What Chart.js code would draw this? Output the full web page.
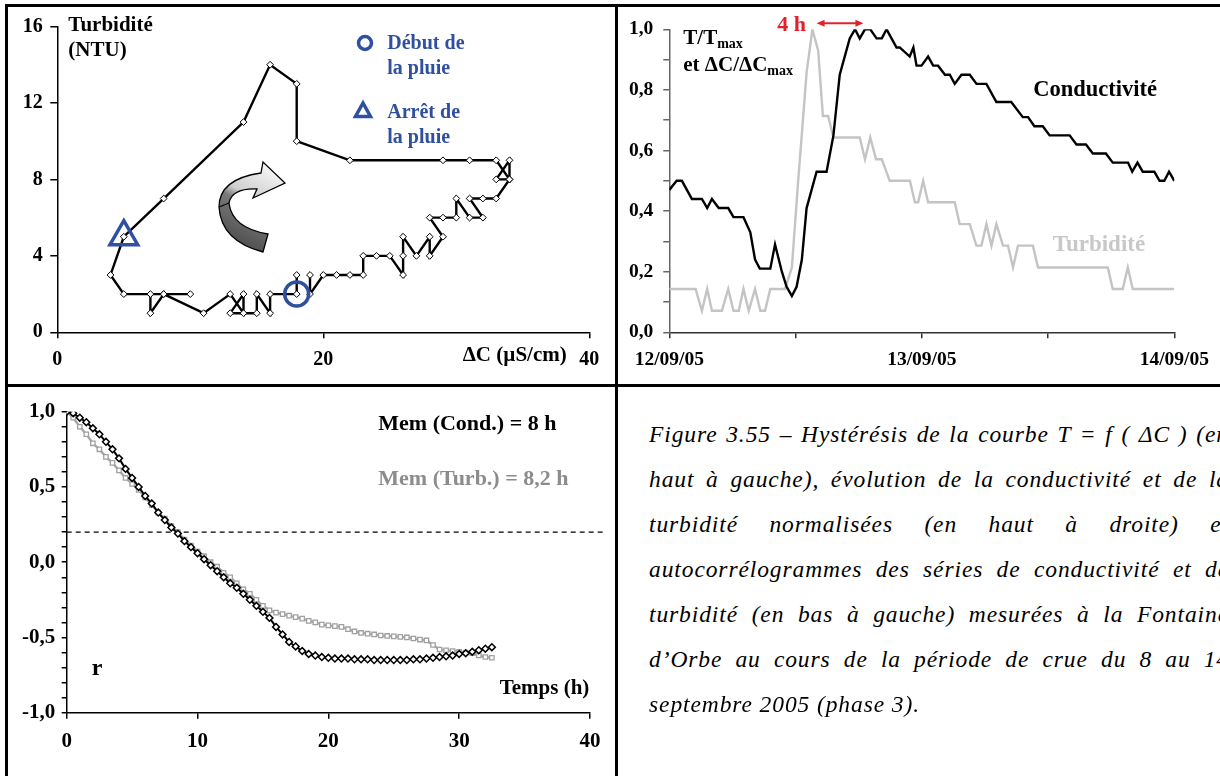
<!DOCTYPE html>
<html><head><meta charset="utf-8">
<script src="https://cdn.jsdelivr.net/npm/chart.js@4.4.1/dist/chart.umd.min.js"></script>
<style>
html,body{margin:0;padding:0;background:#fff;}
#wrap{position:relative;width:1220px;height:776px;overflow:hidden;background:#fff;}
canvas{position:absolute;}
.t{position:absolute;font-family:"Liberation Serif","Times New Roman",serif;font-weight:bold;white-space:nowrap;line-height:1;}
.ln{position:absolute;background:#000;}
.cap{position:absolute;font-family:"Liberation Serif","Times New Roman",serif;font-style:italic;white-space:nowrap;line-height:1;color:#000;letter-spacing:0.9px;}
</style></head>
<body><div id="wrap">
<canvas id="c1" width="606" height="376" style="left:8px;top:7px"></canvas>
<canvas id="c2" width="602" height="376" style="left:618px;top:7px"></canvas>
<canvas id="c3" width="606" height="389" style="left:8px;top:387px"></canvas>
<div class="ln" style="left:5px;top:4px;width:1215px;height:2.5px"></div>
<div class="ln" style="left:5px;top:4px;width:2.5px;height:772px"></div>
<div class="ln" style="left:615px;top:4px;width:2.5px;height:772px"></div>
<div class="ln" style="left:5px;top:384px;width:1215px;height:2.5px"></div>
</div>
<script>
// ---------- DATA ----------
// Hysteresis loop T = f(ΔC)
const hystDC = [18,18,16,16,15,15,13,14,14,13,11,8,10,7,7,8,5,4,5,8,14,16,18,18,22,29,31,33,34,34,33,34,33,32,31,32,31,30,30,29,28,29,28,28,27,26,26,26,25,24,23,23,22,21,20,19,19];
const hystT  = [3,2,2,1,2,1,1,2,1,2,1,2,2,2,1,2,2,3,5,7,11,14,13,10,9,9,9,9,8,9,8,8,7,7,7,6,6,7,6,6,6,5,4,5,4,5,4,3,4,4,4,3,3,3,3,2,3];
const rainStart = [18,2];
const rainStop  = [5,5];
const hystXTicks = [0,20,40];
const hystYTicks = [0,4,8,12,16];

// Normalised series (hours from 12/09/05 00:00)
const condH = [0,0.7,1.2,2.15,3.1,3.6,4.05,4.7,5.6,6.1,7.05,7.7,8.15,8.6,9.6,10.05,10.7,11.15,11.65,12.1,12.6,13.05,14.0,14.95,15.6,16.2,17.15,17.65,18.1,18.6,19.1,19.7,20.2,20.65,21.6,21.9,22.85,23.2,23.5,23.97,24.6,25.08,25.55,26.2,26.66,27.13,27.77,28.56,29.2,30.14,31.09,32.5,33.6,34.1,34.7,35.5,36.15,38.05,38.7,39.6,40.26,41.5,42.15,43.6,44.0,44.5,45.0,46.1,46.6,47.05,47.5,48];
const condV = [0.47,0.50,0.50,0.44,0.44,0.41,0.44,0.41,0.41,0.38,0.38,0.33,0.24,0.21,0.21,0.29,0.20,0.15,0.12,0.15,0.24,0.41,0.53,0.53,0.65,0.85,0.97,1.0,0.97,1.0,1.0,0.97,0.97,1.0,0.94,0.94,0.91,0.94,0.88,0.88,0.91,0.88,0.88,0.85,0.85,0.82,0.85,0.85,0.82,0.82,0.76,0.76,0.71,0.71,0.68,0.68,0.65,0.65,0.62,0.62,0.59,0.59,0.56,0.56,0.53,0.56,0.53,0.53,0.50,0.50,0.53,0.50];
const turbH = [0,2.5,3.1,3.6,4.05,5.0,5.6,6.1,6.6,7.05,7.55,8.15,8.65,9.1,9.6,11.0,11.65,12.25,13.05,13.6,14.15,14.6,15.1,15.6,18.1,18.6,19.1,19.65,20.2,20.95,22.87,23.34,23.65,24.13,24.6,27.13,27.6,28.56,29.19,29.67,30.14,30.62,31.09,31.72,32.19,32.67,33.14,34.56,35.04,41.68,42.15,43.1,43.58,44.05,48];
const turbV = [0.143,0.143,0.071,0.143,0.071,0.071,0.143,0.071,0.071,0.143,0.071,0.143,0.071,0.071,0.143,0.143,0.214,0.5,0.857,1.0,0.929,0.714,0.714,0.643,0.643,0.571,0.643,0.571,0.571,0.5,0.5,0.429,0.429,0.5,0.429,0.429,0.357,0.357,0.286,0.286,0.357,0.286,0.357,0.286,0.286,0.214,0.286,0.286,0.214,0.214,0.143,0.143,0.214,0.143,0.143];
const dateTickHours = [0,12,24,36,48];
const dateTickLabels = ['12/09/05','','13/09/05','','14/09/05'];

// Autocorrelograms
const lags = [0,0.5,1,1.5,2,2.5,3,3.5,4,4.5,5,5.5,6,6.5,7,7.5,8,8.5,9,9.5,10,10.5,11,11.5,12,12.5,13,13.5,14,14.5,15,15.5,16,16.5,17,17.5,18,18.5,19,19.5,20,20.5,21,21.5,22,22.5,23,23.5,24,24.5,25,25.5,26,26.5,27,27.5,28,28.5,29,29.5,30,30.5,31,31.5,32,32.5];
const condR = [1.00,0.99,0.96,0.93,0.89,0.85,0.80,0.75,0.69,0.62,0.56,0.50,0.44,0.39,0.33,0.28,0.23,0.19,0.14,0.10,0.06,0.02,-0.02,-0.06,-0.10,-0.14,-0.17,-0.21,-0.25,-0.29,-0.33,-0.37,-0.43,-0.48,-0.53,-0.56,-0.59,-0.61,-0.62,-0.63,-0.635,-0.64,-0.64,-0.64,-0.645,-0.645,-0.645,-0.65,-0.65,-0.65,-0.65,-0.65,-0.65,-0.645,-0.645,-0.64,-0.635,-0.63,-0.625,-0.62,-0.61,-0.605,-0.595,-0.585,-0.575,-0.565];
const turbR = [1.0,0.96,0.90,0.85,0.79,0.75,0.70,0.66,0.61,0.56,0.52,0.48,0.43,0.38,0.33,0.29,0.24,0.20,0.15,0.11,0.07,0.04,0.00,-0.03,-0.07,-0.10,-0.14,-0.18,-0.21,-0.25,-0.29,-0.32,-0.335,-0.345,-0.355,-0.365,-0.375,-0.39,-0.40,-0.415,-0.42,-0.425,-0.43,-0.445,-0.46,-0.47,-0.475,-0.48,-0.487,-0.49,-0.493,-0.496,-0.50,-0.507,-0.514,-0.52,-0.55,-0.58,-0.585,-0.59,-0.595,-0.60,-0.605,-0.62,-0.63,-0.635];
const memThreshold = 0.2;

// ---------- STYLE ----------
const SERIF = '"Liberation Serif","Times New Roman",serif';
const BLUE = '#2f4f9f';
const RED = '#e3202a';
const comma = v => (Math.round(v*10)/10).toFixed(1).replace('.',',');

function axisCommon(size, tl, pad){
  return {
    grid:{display:true, drawOnChartArea:false, drawTicks:true, tickLength:tl, color:'#000', lineWidth:1.5},
    border:{display:true, color:'#000', width:1.5},
    ticks:{color:'#000', font:{family:SERIF, weight:'bold', size:size}, padding:pad, autoSkip:false, maxRotation:0, minRotation:0}
  };
}
function merge(a,b){ for(const k in b){ if(b[k] && typeof b[k]==='object' && !Array.isArray(b[k]) && typeof b[k]!=='function'){ a[k]=merge(a[k]||{}, b[k]); } else a[k]=b[k]; } return a; }

const baseOpts = {responsive:false, animation:false, devicePixelRatio:1,
  plugins:{legend:{display:false}, tooltip:{enabled:false}}};

// ---------- CHART 1 : hysteresis ----------
const deco1 = {
  id:'deco1',
  afterDraw(chart){
    const ctx = chart.ctx; const ox=8, oy=7;
    ctx.save();
    ctx.translate(-ox,-oy);
    // curved arrow
    const g = ctx.createLinearGradient(240,250,285,165);
    g.addColorStop(0,'#4a4a4a'); g.addColorStop(0.45,'#7a7a7a'); g.addColorStop(0.55,'#cfcfcf'); g.addColorStop(1,'#ffffff');
    ctx.beginPath();
    ctx.moveTo(263,252);
    ctx.quadraticCurveTo(221,241,219,207);
    ctx.quadraticCurveTo(219,179,261,173);
    ctx.lineTo(263,162); ctx.lineTo(285,183); ctx.lineTo(253,198); ctx.lineTo(257,189);
    ctx.quadraticCurveTo(232,188,229,203);
    ctx.quadraticCurveTo(232,228,268,234);
    ctx.closePath();
    ctx.fillStyle=g; ctx.fill();
    ctx.lineWidth=1.3; ctx.strokeStyle='#000'; ctx.stroke();
    ctx.beginPath(); ctx.moveTo(219,207); ctx.lineTo(229,203); ctx.stroke();
    // legend markers
    ctx.strokeStyle=BLUE; ctx.lineWidth=3.5;
    ctx.beginPath(); ctx.arc(365,43,6.5,0,Math.PI*2); ctx.stroke();
    ctx.beginPath(); ctx.moveTo(363,103); ctx.lineTo(370.5,116.5); ctx.lineTo(355.5,116.5); ctx.closePath(); ctx.stroke();
    ctx.restore();
  }
};
new Chart(document.getElementById('c1'), {
  type:'scatter',
  data:{datasets:[
    {data:[{x:rainStart[0],y:rainStart[1]}], showLine:false, pointStyle:'circle', pointRadius:12, pointBorderWidth:3.5, pointBorderColor:BLUE, pointBackgroundColor:'rgba(0,0,0,0)'},
    {data:[{x:rainStop[0],y:rainStop[1]}], showLine:false, pointStyle:'triangle', pointRadius:16, pointBorderWidth:3.5, pointBorderColor:BLUE, pointBackgroundColor:'rgba(0,0,0,0)'},
    {data:hystDC.map((x,i)=>({x:x,y:hystT[i]})), showLine:true, borderColor:'#000', borderWidth:2.4, tension:0,
     pointStyle:'rectRot', pointRadius:3.4, pointBorderWidth:1, pointBorderColor:'#000', pointBackgroundColor:'#fff'}
  ]},
  options:merge(JSON.parse(JSON.stringify(baseOpts)), {
    layout:{padding:{top:18,right:24.7,left:0,bottom:0}},
    scales:{
      x:merge(axisCommon(20,6,9.5), {type:'linear', min:0, max:40,
        afterBuildTicks:s=>{s.ticks=hystXTicks.map(v=>({value:v}));},
        afterFit:s=>{s.height=50.7;}}),
      y:merge(axisCommon(20,7,7.5), {type:'linear', min:0, max:16,
        afterBuildTicks:s=>{s.ticks=hystYTicks.map(v=>({value:v}));},
        afterFit:s=>{s.width=49.3;}})
    }
  }),
  plugins:[deco1]
});

// ---------- CHART 2 : normalised series ----------
const deco2 = {
  id:'deco2',
  afterDraw(chart){
    const ctx=chart.ctx, xs=chart.scales.x, ys=chart.scales.y;
    const x1=xs.getPixelForValue(14.0), x2=xs.getPixelForValue(18.45), y=ys.getPixelForValue(1.02);
    ctx.save(); ctx.strokeStyle=RED; ctx.fillStyle=RED; ctx.lineWidth=1.8;
    ctx.beginPath(); ctx.moveTo(x1+5,y); ctx.lineTo(x2-5,y); ctx.stroke();
    ctx.beginPath(); ctx.moveTo(x1,y); ctx.lineTo(x1+8,y-3.5); ctx.lineTo(x1+8,y+3.5); ctx.closePath(); ctx.fill();
    ctx.beginPath(); ctx.moveTo(x2,y); ctx.lineTo(x2-8,y-3.5); ctx.lineTo(x2-8,y+3.5); ctx.closePath(); ctx.fill();
    ctx.restore();
  }
};
const ax2x = axisCommon(19.5,6,9.5); ax2x.grid.color='#333'; ax2x.border.color='#333';
const ax2y = axisCommon(19.5,6,10); ax2y.grid.color='#666'; ax2y.border.color='#666';
new Chart(document.getElementById('c2'), {
  type:'scatter',
  data:{datasets:[
    {data:condH.map((x,i)=>({x:x,y:condV[i]})), showLine:true, borderColor:'#000', borderWidth:2.4, pointRadius:0, tension:0},
    {data:turbH.map((x,i)=>({x:x,y:turbV[i]})), showLine:true, borderColor:'#c4c4c4', borderWidth:2.4, pointRadius:0, tension:0}
  ]},
  options:merge(JSON.parse(JSON.stringify(baseOpts)), {
    layout:{padding:{top:22.3,right:45.7,left:0,bottom:0}},
    scales:{
      x:merge(ax2x, {type:'linear', min:0, max:48,
        afterBuildTicks:s=>{s.ticks=dateTickHours.map(v=>({value:v}));},
        ticks:{callback:(v,i)=>dateTickLabels[i]},
        afterFit:s=>{s.height=50.7;}}),
      y:merge(ax2y, {type:'linear', min:0, max:1,
        ticks:{stepSize:0.1, callback:v=>(Math.round(v*10)%2===0? comma(v):'')},
        afterFit:s=>{s.width=51.3;}})
    }
  }),
  plugins:[deco2]
});

// ---------- CHART 3 : autocorrelograms ----------
const deco3 = {
  id:'deco3',
  beforeDatasetsDraw(chart){
    const ctx=chart.ctx, ys=chart.scales.y, a=chart.chartArea;
    const y=ys.getPixelForValue(memThreshold);
    ctx.save(); ctx.strokeStyle='#000'; ctx.lineWidth=1.2; ctx.setLineDash([5,4]);
    ctx.beginPath(); ctx.moveTo(a.left,y); ctx.lineTo(a.right+15,y); ctx.stroke(); ctx.restore();
  }
};
new Chart(document.getElementById('c3'), {
  type:'line',
  data:{labels:lags, datasets:[
    {data:lags.map((x,i)=>({x:x,y:condR[i]})), borderColor:'#000', borderWidth:2, tension:0,
     pointStyle:'rectRot', pointRadius:3.4, pointBorderWidth:1.5, pointBorderColor:'#000', pointBackgroundColor:'#fff'},
    {data:lags.map((x,i)=>({x:x,y:turbR[i]})), borderColor:'#a8a8a8', borderWidth:2.4, tension:0,
     pointStyle:'rect', pointRadius:3.1, pointBorderWidth:1.3, pointBorderColor:'#a0a0a0', pointBackgroundColor:'#fff'}
  ]},
  options:merge(JSON.parse(JSON.stringify(baseOpts)), {
    layout:{padding:{top:24.7,right:24,left:0,bottom:0}},
    scales:{
      x:merge(axisCommon(21,6,10.5), {type:'linear', min:0, max:40,
        ticks:{stepSize:10},
        afterFit:s=>{s.height=63.3;}}),
      y:merge(axisCommon(21,5,6.5), {type:'linear', min:-1, max:1,
        ticks:{stepSize:0.1, callback:v=>(Math.abs(Math.round(v*10))%5===0? comma(v):'')},
        afterFit:s=>{s.width=58.7;}})
    }
  }),
  plugins:[deco3]
});

// ---------- TEXT ----------
const wrap = document.getElementById('wrap');
function txt(html, x, base, size, color, align){
  const d=document.createElement('div'); d.className='t'; d.innerHTML=html;
  d.style.fontSize=size+'px'; d.style.color=color||'#000';
  d.style.top=(base-0.8375*size)+'px';
  if(align==='right'){ d.style.right=(1220-x)+'px'; } else { d.style.left=x+'px'; }
  wrap.appendChild(d);
}
const sub = s=>'<span style="font-size:14px;position:relative;top:4px">'+s+'</span>';
txt('Turbidité',68.3,31.7,21);
txt('(NTU)',68.3,56.7,21);
txt('Début de',387.3,49,20,BLUE);
txt('la pluie',387.3,73.3,20,BLUE);
txt('Arrêt de',387.3,118,20,BLUE);
txt('la pluie',387.3,142.7,20,BLUE);
txt('ΔC (µS/cm)',566.7,361.7,21,'#000','right');
txt('T/T'+sub('max'),683.3,45,21);
txt('et ΔC/ΔC'+sub('max'),683.3,71.7,21);
txt('4 h',806,31.7,22,RED,'right');
txt('Conductivité',1033.3,96.7,22.5);
txt('Turbidité',1052.7,251.7,23,'#c8c8c8');
txt('Mem (Cond.) = 8 h',378.3,430,22);
txt('Mem (Turb.) = 8,2 h',378.3,485,22,'#8c8c8c');
txt('Temps (h)',589.3,695,21,'#000','right');
txt('r',91.7,675,24);

// caption (justified by word spacing)
const capLines = [
 'Figure 3.55 – Hystérésis de la courbe T = f ( ΔC ) (en',
 'haut à gauche), évolution de la conductivité et de la',
 'turbidité normalisées (en haut à droite) et',
 'autocorrélogrammes des séries de conductivité et de',
 'turbidité (en bas à gauche) mesurées à la Fontaine',
 'd’Orbe au cours de la période de crue du 8 au 14',
 'septembre 2005 (phase 3).'
];
const capSize=23.5, capW=580;
capLines.forEach((s,i)=>{
  const d=document.createElement('div'); d.className='cap'; d.textContent=s;
  d.style.fontSize=capSize+'px'; d.style.left='649px';
  d.style.top=(443+45*i-0.8375*capSize)+'px';
  wrap.appendChild(d);
  if(i<6){
    const w=d.getBoundingClientRect().width; const gaps=s.split(' ').length-1;
    d.style.wordSpacing=Math.max(0,(capW-w)/gaps)+'px';
  }
});
</script>
</body></html>
